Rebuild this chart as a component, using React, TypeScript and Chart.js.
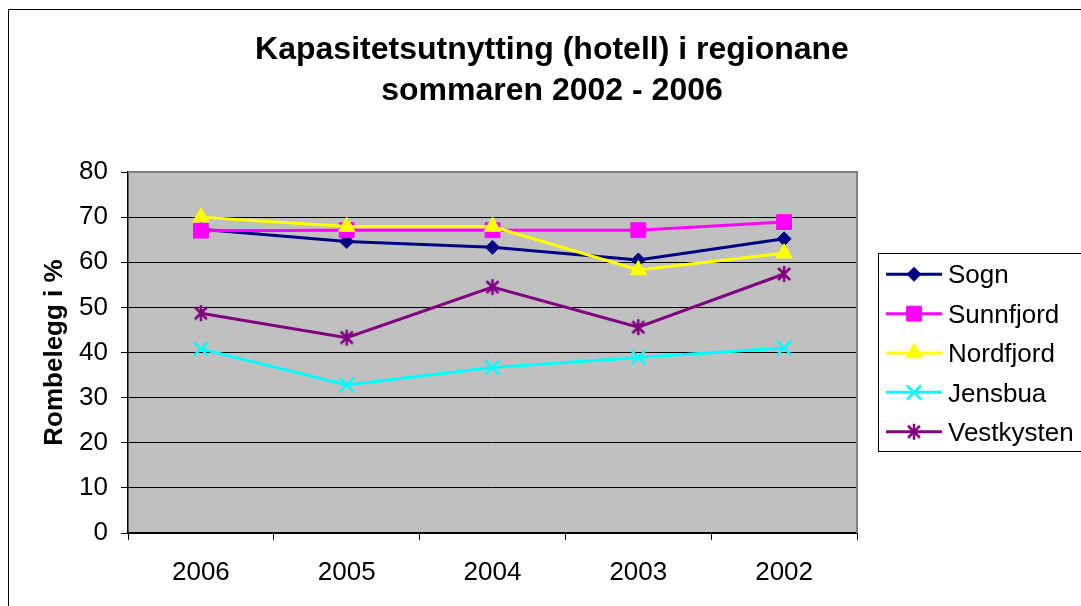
import React, { useEffect, useRef } from 'react';
import { Chart, registerables } from 'chart.js';
import { drawPoint } from 'chart.js/helpers';

Chart.register(...registerables);

const FONT = '"Liberation Sans", Arial, Helvetica, sans-serif';

const categories = ['2006', '2005', '2004', '2003', '2002'];
const seriesNames = ['Sogn', 'Sunnfjord', 'Nordfjord', 'Jensbua', 'Vestkysten'];
const sogn = [67.3, 64.6, 63.3, 60.5, 65.2];
const sunnfjord = [67.0, 67.1, 67.1, 67.1, 68.9];
const nordfjord = [70.0, 67.9, 67.9, 58.3, 62.0];
const jensbua = [40.8, 32.8, 36.7, 38.9, 41.0];
const vestkysten = [48.7, 43.3, 54.5, 45.6, 57.4];
const yTicks = [0, 10, 20, 30, 40, 50, 60, 70, 80];
const titleLines = ['Kapasitetsutnytting (hotell) i regionane', 'sommaren 2002 - 2006'];
const yAxisTitle = 'Rombelegg i %';

function makeAsterisk(color: string) {
  const c = document.createElement('canvas');
  c.width = 18;
  c.height = 18;
  const g = c.getContext('2d')!;
  g.strokeStyle = color;
  g.lineWidth = 2.5;
  g.lineCap = 'butt';
  g.beginPath();
  g.moveTo(3, 3); g.lineTo(15, 15);
  g.moveTo(15, 3); g.lineTo(3, 15);
  g.moveTo(9, 1); g.lineTo(9, 17);
  g.stroke();
  return c;
}

const decorPlugin = {
  id: 'decor',
  beforeDraw(chart: any) {
    const { ctx, chartArea: a } = chart;
    ctx.save();
    ctx.fillStyle = '#ffffff';
    ctx.fillRect(0, 0, chart.width, chart.height);
    ctx.strokeStyle = '#000000';
    ctx.lineWidth = 1;
    ctx.strokeRect(8.5, 9.5, chart.width + 40, chart.height + 40);
    ctx.fillStyle = '#C0C0C0';
    ctx.fillRect(a.left, a.top, a.right - a.left, a.bottom - a.top);
    ctx.restore();
  },
  beforeDatasetsDraw(chart: any) {
    const { ctx, chartArea: a } = chart;
    ctx.save();
    ctx.strokeStyle = '#808080';
    ctx.lineWidth = 2;
    ctx.beginPath();
    ctx.moveTo(a.left, a.top);
    ctx.lineTo(a.right, a.top);
    ctx.lineTo(a.right, a.bottom);
    ctx.stroke();
    ctx.restore();
  },
  afterDraw(chart: any) {
    const { ctx } = chart;
    ctx.save();
    // Title
    ctx.fillStyle = '#000';
    ctx.font = `bold 32px ${FONT}`;
    ctx.textAlign = 'center';
    ctx.textBaseline = 'alphabetic';
    ctx.fillText(titleLines[0], 552, 59);
    ctx.fillText(titleLines[1], 552, 100);

    // Legend
    const bx = 878.5, by = 253.5, bh = 198;
    ctx.strokeStyle = '#000';
    ctx.lineWidth = 1;
    ctx.strokeRect(bx, by, 260, bh);
    chart.data.datasets.forEach((ds: any, i: number) => {
      const y = 274.3 + i * 39.35;
      ctx.strokeStyle = ds.borderColor;
      ctx.lineWidth = ds.borderWidth;
      ctx.beginPath();
      ctx.moveTo(886, y);
      ctx.lineTo(942, y);
      ctx.stroke();
      ctx.fillStyle = ds.pointBackgroundColor;
      ctx.strokeStyle = ds.pointBorderColor;
      ctx.lineWidth = ds.pointBorderWidth;
      drawPoint(ctx, {
        pointStyle: ds.pointStyle,
        radius: ds.pointRadius,
        borderWidth: ds.pointBorderWidth,
        rotation: 0,
      } as any, 914, y);
      ctx.fillStyle = '#000';
      ctx.font = `26px ${FONT}`;
      ctx.textAlign = 'left';
      ctx.textBaseline = 'middle';
      ctx.fillText(ds.label, 948, y + 2);
    });
    ctx.restore();
  },
};

export default function App() {
  const ref = useRef<HTMLCanvasElement>(null);

  useEffect(() => {
    if (!ref.current) return;
    const star = makeAsterisk('#800080');
    const mk = (idx: number, data: number[], color: string, style: any, radius: number, bw: number) => ({
      label: seriesNames[idx],
      data,
      order: 10 - idx,
      borderColor: color,
      backgroundColor: color,
      borderWidth: 3,
      pointStyle: style,
      pointRadius: radius,
      pointHoverRadius: radius,
      pointBackgroundColor: color,
      pointBorderColor: color,
      pointBorderWidth: bw,
      tension: 0,
      fill: false,
    });
    const chart = new Chart(ref.current, {
      type: 'line',
      data: {
        labels: categories,
        datasets: [
          mk(0, sogn, '#000080', 'rectRot', 7, 1),
          mk(1, sunnfjord, '#FF00FF', 'rect', 10.5, 1),
          mk(2, nordfjord, '#FFFF00', 'triangle', 9.5, 1),
          mk(3, jensbua, '#00FFFF', 'crossRot', 10, 2.5),
          mk(4, vestkysten, '#800080', star, 9, 1),
        ],
      },
      options: {
        responsive: false,
        animation: false,
        events: [],
        layout: { padding: { left: 0, top: 172, right: 224, bottom: 0 } },
        plugins: {
          legend: { display: false },
          title: { display: false },
          tooltip: { enabled: false },
        },
        scales: {
          x: {
            type: 'category',
            offset: true,
            afterFit: (s: any) => { s.height = 73; },
            grid: {
              offset: true,
              drawOnChartArea: false,
              drawTicks: true,
              tickLength: 7,
              color: '#000',
            },
            border: { display: true, color: '#000', width: 1.5 },
            ticks: {
              color: '#000',
              font: { family: FONT, size: 26 },
              padding: 17,
              maxRotation: 0,
            },
          },
          y: {
            min: 0,
            max: 80,
            afterFit: (s: any) => { s.width = 128; },
            afterBuildTicks: (s: any) => { s.ticks = yTicks.map((v) => ({ value: v })); },
            grid: {
              drawOnChartArea: true,
              drawTicks: true,
              tickLength: 7,
              color: '#000',
            },
            border: { display: true, color: '#000', width: 1.5 },
            ticks: {
              color: '#000',
              font: { family: FONT, size: 26 },
              padding: 13,
            },
            title: {
              display: true,
              text: yAxisTitle,
              color: '#000',
              font: { family: FONT, size: 26, weight: 'bold' },
              padding: { top: 39, bottom: 0 },
            },
          },
        },
      },
      plugins: [decorPlugin],
    } as any);
    return () => chart.destroy();
  }, []);

  return (
    <div style={{ position: 'absolute', left: 0, top: 0, width: 1081, height: 606, overflow: 'hidden' }}>
      <canvas ref={ref} width={1081} height={606} style={{ display: 'block' }} />
    </div>
  );
}
